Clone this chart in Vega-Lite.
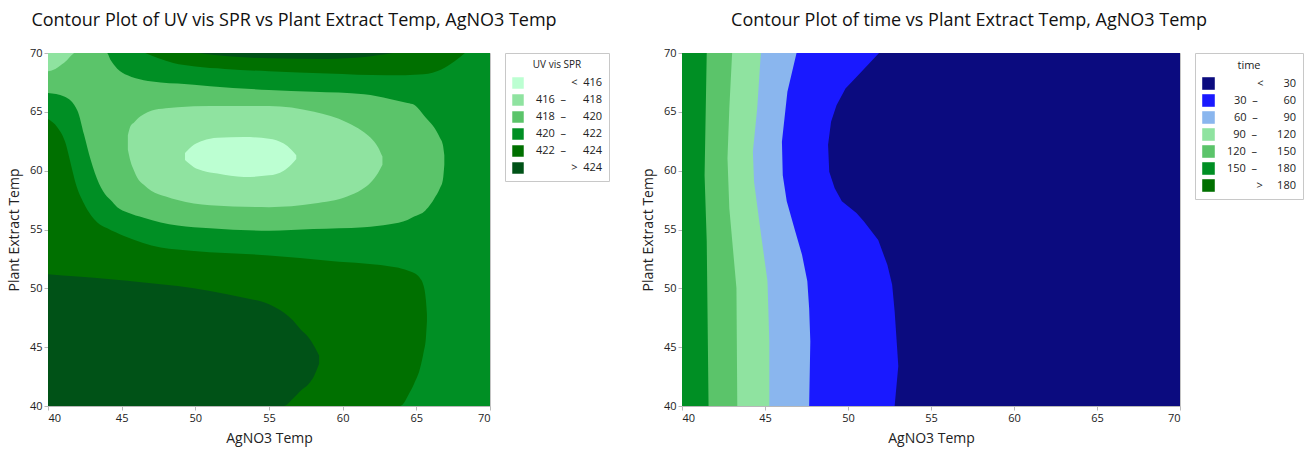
{
  "$schema": "https://vega.github.io/schema/vega-lite/v6.json",
  "background": "white",
  "padding": {"left": 6, "top": 11, "right": 4, "bottom": 4},
  "config": {
    "font": "Open Sans",
    "view": {"stroke": "#c4c4c4", "strokeWidth": 1},
    "axis": {"grid": false, "domainColor": "#b8b8b8", "tickColor": "#b8b8b8", "tickSize": 4, "labelFontSize": 11, "labelColor": "#222222", "labelPadding": 2, "titleFontSize": 14, "titleFontWeight": "normal", "titleColor": "#222222"},
    "title": {"fontSize": 18, "fontWeight": "normal", "color": "#111111", "offset": 17},
    "legend": {"symbolType": "square", "symbolStrokeWidth": 0, "strokeColor": "#c8c8c8", "padding": 7, "titleFontWeight": "normal", "titleColor": "#222222", "labelColor": "#222222", "labelAlign": "right", "titleAnchor": "middle", "rowPadding": 5, "offset": 15}
  },
  "datasets": {
    "uv": [
      {"part": "bg", "cls": "420 – 422", "x": 40, "lo": 40, "hi": 70},
      {"part": "bg", "cls": "420 – 422", "x": 70, "lo": 40, "hi": 70},

      {"part": "L422", "cls": "422 – 424", "x": 40, "lo": 40, "hi": 64.4},
      {"part": "L422", "cls": "422 – 424", "x": 40.63, "lo": 40, "hi": 63.7},
      {"part": "L422", "cls": "422 – 424", "x": 41.2, "lo": 40, "hi": 62.3},
      {"part": "L422", "cls": "422 – 424", "x": 41.54, "lo": 40, "hi": 60.6},
      {"part": "L422", "cls": "422 – 424", "x": 41.88, "lo": 40, "hi": 58.9},
      {"part": "L422", "cls": "422 – 424", "x": 42.44, "lo": 40, "hi": 57.2},
      {"part": "L422", "cls": "422 – 424", "x": 43.35, "lo": 40, "hi": 55.6},
      {"part": "L422", "cls": "422 – 424", "x": 44.03, "lo": 40, "hi": 55.1},
      {"part": "L422", "cls": "422 – 424", "x": 45.16, "lo": 40, "hi": 54.45},
      {"part": "L422", "cls": "422 – 424", "x": 47.65, "lo": 40, "hi": 53.46},
      {"part": "L422", "cls": "422 – 424", "x": 49.9, "lo": 40, "hi": 53.18},
      {"part": "L422", "cls": "422 – 424", "x": 55, "lo": 40, "hi": 52.8},
      {"part": "L422", "cls": "422 – 424", "x": 59.2, "lo": 40, "hi": 52.33},
      {"part": "L422", "cls": "422 – 424", "x": 63.7, "lo": 40, "hi": 51.76},
      {"part": "L422", "cls": "422 – 424", "x": 63.9, "lo": 40, "hi": 51.7},
      {"part": "L422", "cls": "422 – 424", "x": 64.55, "lo": 41.14, "hi": 51.45},
      {"part": "L422", "cls": "422 – 424", "x": 64.85, "lo": 41.9, "hi": 51.3},
      {"part": "L422", "cls": "422 – 424", "x": 65.23, "lo": 43.1, "hi": 50.9},
      {"part": "L422", "cls": "422 – 424", "x": 65.5, "lo": 44.6, "hi": 50.2},
      {"part": "L422", "cls": "422 – 424", "x": 65.65, "lo": 45.8, "hi": 49.0},
      {"part": "L422", "cls": "422 – 424", "x": 65.72, "lo": 47.2, "hi": 47.8},

      {"part": "B424", "cls": "> 424", "x": 40, "lo": 40, "hi": 51.2},
      {"part": "B424", "cls": "> 424", "x": 42, "lo": 40, "hi": 51.0},
      {"part": "B424", "cls": "> 424", "x": 44.25, "lo": 40, "hi": 50.77},
      {"part": "B424", "cls": "> 424", "x": 46.5, "lo": 40, "hi": 50.5},
      {"part": "B424", "cls": "> 424", "x": 48.8, "lo": 40, "hi": 50.2},
      {"part": "B424", "cls": "> 424", "x": 51, "lo": 40, "hi": 49.78},
      {"part": "B424", "cls": "> 424", "x": 53.3, "lo": 40, "hi": 49.2},
      {"part": "B424", "cls": "> 424", "x": 55, "lo": 40, "hi": 48.65},
      {"part": "B424", "cls": "> 424", "x": 56, "lo": 40, "hi": 47.94},
      {"part": "B424", "cls": "> 424", "x": 56.6, "lo": 40.6, "hi": 47.3},
      {"part": "B424", "cls": "> 424", "x": 57.15, "lo": 41.3, "hi": 46.5},
      {"part": "B424", "cls": "> 424", "x": 57.7, "lo": 41.9, "hi": 45.8},
      {"part": "B424", "cls": "> 424", "x": 58.06, "lo": 42.56, "hi": 45.1},
      {"part": "B424", "cls": "> 424", "x": 58.4, "lo": 43.6, "hi": 44.3},

      {"part": "M418", "cls": "418 – 420", "x": 40, "lo": 66.6, "hi": 70},
      {"part": "M418", "cls": "418 – 420", "x": 41.1, "lo": 66.3, "hi": 70},
      {"part": "M418", "cls": "418 – 420", "x": 42.0, "lo": 65.1, "hi": 70},
      {"part": "M418", "cls": "418 – 420", "x": 42.44, "lo": 63.1, "hi": 70},
      {"part": "M418", "cls": "418 – 420", "x": 42.9, "lo": 60.9, "hi": 70},
      {"part": "M418", "cls": "418 – 420", "x": 43.46, "lo": 58.9, "hi": 70},
      {"part": "M418", "cls": "418 – 420", "x": 44.0, "lo": 57.8, "hi": 70},
      {"part": "M418", "cls": "418 – 420", "x": 44.25, "lo": 57.5, "hi": 69.4},
      {"part": "M418", "cls": "418 – 420", "x": 44.7, "lo": 56.9, "hi": 68.67},
      {"part": "M418", "cls": "418 – 420", "x": 45.4, "lo": 56.45, "hi": 68.1},
      {"part": "M418", "cls": "418 – 420", "x": 46.5, "lo": 56.0, "hi": 67.68},
      {"part": "M418", "cls": "418 – 420", "x": 47.65, "lo": 55.6, "hi": 67.5},
      {"part": "M418", "cls": "418 – 420", "x": 48.8, "lo": 55.35, "hi": 67.4},
      {"part": "M418", "cls": "418 – 420", "x": 51, "lo": 55.1, "hi": 67.17},
      {"part": "M418", "cls": "418 – 420", "x": 55, "lo": 54.9, "hi": 66.85},
      {"part": "M418", "cls": "418 – 420", "x": 58, "lo": 55.05, "hi": 66.7},
      {"part": "M418", "cls": "418 – 420", "x": 61.45, "lo": 55.2, "hi": 66.5},
      {"part": "M418", "cls": "418 – 420", "x": 63.2, "lo": 55.45, "hi": 66.1},
      {"part": "M418", "cls": "418 – 420", "x": 64.4, "lo": 55.8, "hi": 65.75},
      {"part": "M418", "cls": "418 – 420", "x": 64.85, "lo": 56.1, "hi": 65.6},
      {"part": "M418", "cls": "418 – 420", "x": 65.6, "lo": 56.6, "hi": 64.56},
      {"part": "M418", "cls": "418 – 420", "x": 66.0, "lo": 57.2, "hi": 64.0},
      {"part": "M418", "cls": "418 – 420", "x": 66.2, "lo": 57.6, "hi": 63.7},
      {"part": "M418", "cls": "418 – 420", "x": 66.6, "lo": 58.5, "hi": 62.8},
      {"part": "M418", "cls": "418 – 420", "x": 66.8, "lo": 59.2, "hi": 62.2},
      {"part": "M418", "cls": "418 – 420", "x": 66.9, "lo": 60.5, "hi": 61.3},

      {"part": "C416", "cls": "416 – 418", "x": 40, "lo": 68.45, "hi": 70},
      {"part": "C416", "cls": "416 – 418", "x": 40.5, "lo": 68.65, "hi": 70},
      {"part": "C416", "cls": "416 – 418", "x": 40.86, "lo": 68.95, "hi": 70},
      {"part": "C416", "cls": "416 – 418", "x": 41.3, "lo": 69.4, "hi": 70},
      {"part": "C416", "cls": "416 – 418", "x": 41.54, "lo": 69.75, "hi": 70},
      {"part": "C416", "cls": "416 – 418", "x": 41.77, "lo": 70, "hi": 70},

      {"part": "M416", "cls": "416 – 418", "x": 45.42, "lo": 61.8, "hi": 63.0},
      {"part": "M416", "cls": "416 – 418", "x": 45.6, "lo": 60.8, "hi": 63.8},
      {"part": "M416", "cls": "416 – 418", "x": 45.84, "lo": 60.0, "hi": 64.1},
      {"part": "M416", "cls": "416 – 418", "x": 46.06, "lo": 59.4, "hi": 64.4},
      {"part": "M416", "cls": "416 – 418", "x": 46.5, "lo": 58.8, "hi": 64.8},
      {"part": "M416", "cls": "416 – 418", "x": 47.0, "lo": 58.3, "hi": 65.1},
      {"part": "M416", "cls": "416 – 418", "x": 48.0, "lo": 57.8, "hi": 65.3},
      {"part": "M416", "cls": "416 – 418", "x": 48.8, "lo": 57.5, "hi": 65.4},
      {"part": "M416", "cls": "416 – 418", "x": 51, "lo": 57.06, "hi": 65.5},
      {"part": "M416", "cls": "416 – 418", "x": 55, "lo": 56.9, "hi": 65.5},
      {"part": "M416", "cls": "416 – 418", "x": 58.06, "lo": 57.2, "hi": 65.0},
      {"part": "M416", "cls": "416 – 418", "x": 60.3, "lo": 57.8, "hi": 64.1},
      {"part": "M416", "cls": "416 – 418", "x": 61.3, "lo": 58.4, "hi": 63.4},
      {"part": "M416", "cls": "416 – 418", "x": 61.9, "lo": 59.0, "hi": 62.8},
      {"part": "M416", "cls": "416 – 418", "x": 62.4, "lo": 59.8, "hi": 62.0},
      {"part": "M416", "cls": "416 – 418", "x": 62.7, "lo": 60.5, "hi": 61.2},

      {"part": "M414", "cls": "< 416", "x": 49.3, "lo": 60.9, "hi": 61.5},
      {"part": "M414", "cls": "< 416", "x": 49.9, "lo": 60.3, "hi": 62.2},
      {"part": "M414", "cls": "< 416", "x": 50.5, "lo": 60.0, "hi": 62.55},
      {"part": "M414", "cls": "< 416", "x": 51.5, "lo": 59.75, "hi": 62.8},
      {"part": "M414", "cls": "< 416", "x": 53.3, "lo": 59.46, "hi": 62.86},
      {"part": "M414", "cls": "< 416", "x": 55, "lo": 59.6, "hi": 62.72},
      {"part": "M414", "cls": "< 416", "x": 56.0, "lo": 60.0, "hi": 62.3},
      {"part": "M414", "cls": "< 416", "x": 56.5, "lo": 60.5, "hi": 61.8},
      {"part": "M414", "cls": "< 416", "x": 56.85, "lo": 61.0, "hi": 61.3},

      {"part": "T422", "cls": "422 – 424", "x": 46.6, "lo": 70, "hi": 70},
      {"part": "T422", "cls": "422 – 424", "x": 47.5, "lo": 69.55, "hi": 70},
      {"part": "T422", "cls": "422 – 424", "x": 48.5, "lo": 69.15, "hi": 70},
      {"part": "T422", "cls": "422 – 424", "x": 50, "lo": 68.85, "hi": 70},
      {"part": "T422", "cls": "422 – 424", "x": 52, "lo": 68.65, "hi": 70},
      {"part": "T422", "cls": "422 – 424", "x": 55, "lo": 68.45, "hi": 70},
      {"part": "T422", "cls": "422 – 424", "x": 59, "lo": 68.25, "hi": 70},
      {"part": "T422", "cls": "422 – 424", "x": 63, "lo": 68.1, "hi": 70},
      {"part": "T422", "cls": "422 – 424", "x": 65.5, "lo": 68.2, "hi": 70},
      {"part": "T422", "cls": "422 – 424", "x": 66.7, "lo": 68.6, "hi": 70},
      {"part": "T422", "cls": "422 – 424", "x": 67.6, "lo": 69.3, "hi": 70},
      {"part": "T422", "cls": "422 – 424", "x": 68.3, "lo": 70, "hi": 70},

      {"part": "T424", "cls": "> 424", "x": 50.2, "lo": 70, "hi": 70},
      {"part": "T424", "cls": "> 424", "x": 51.5, "lo": 69.8, "hi": 70},
      {"part": "T424", "cls": "> 424", "x": 53, "lo": 69.65, "hi": 70},
      {"part": "T424", "cls": "> 424", "x": 55, "lo": 69.55, "hi": 70},
      {"part": "T424", "cls": "> 424", "x": 59, "lo": 69.5, "hi": 70},
      {"part": "T424", "cls": "> 424", "x": 61.5, "lo": 69.65, "hi": 70},
      {"part": "T424", "cls": "> 424", "x": 62.6, "lo": 69.85, "hi": 70},
      {"part": "T424", "cls": "> 424", "x": 63.4, "lo": 70, "hi": 70}
    ],
    "time": [
      {"cls": "< 30", "y": 40, "xr": 70},
      {"cls": "< 30", "y": 70, "xr": 70},

      {"cls": "30 – 60", "y": 40, "xr": 52.81},
      {"cls": "30 – 60", "y": 43.4, "xr": 53.03},
      {"cls": "30 – 60", "y": 44.9, "xr": 52.96},
      {"cls": "30 – 60", "y": 48.05, "xr": 52.81},
      {"cls": "30 – 60", "y": 50.3, "xr": 52.66},
      {"cls": "30 – 60", "y": 52.0, "xr": 52.37},
      {"cls": "30 – 60", "y": 54.1, "xr": 51.82},
      {"cls": "30 – 60", "y": 55.7, "xr": 50.95},
      {"cls": "30 – 60", "y": 56.4, "xr": 50.51},
      {"cls": "30 – 60", "y": 57.4, "xr": 49.63},
      {"cls": "30 – 60", "y": 58.5, "xr": 49.2},
      {"cls": "30 – 60", "y": 59.9, "xr": 48.87},
      {"cls": "30 – 60", "y": 62.2, "xr": 48.8},
      {"cls": "30 – 60", "y": 64.15, "xr": 48.98},
      {"cls": "30 – 60", "y": 65.56, "xr": 49.31},
      {"cls": "30 – 60", "y": 66.98, "xr": 49.85},
      {"cls": "30 – 60", "y": 67.97, "xr": 50.51},
      {"cls": "30 – 60", "y": 70, "xr": 51.87},

      {"cls": "60 – 90", "y": 40, "xr": 47.66},
      {"cls": "60 – 90", "y": 45.5, "xr": 47.73},
      {"cls": "60 – 90", "y": 48.3, "xr": 47.66},
      {"cls": "60 – 90", "y": 50.6, "xr": 47.55},
      {"cls": "60 – 90", "y": 52.85, "xr": 47.23},
      {"cls": "60 – 90", "y": 55.0, "xr": 46.79},
      {"cls": "60 – 90", "y": 57.4, "xr": 46.31},
      {"cls": "60 – 90", "y": 59.6, "xr": 46.07},
      {"cls": "60 – 90", "y": 62.46, "xr": 46.02},
      {"cls": "60 – 90", "y": 66.7, "xr": 46.35},
      {"cls": "60 – 90", "y": 70, "xr": 46.9},

      {"cls": "90 – 120", "y": 40, "xr": 45.26},
      {"cls": "90 – 120", "y": 45.5, "xr": 45.26},
      {"cls": "90 – 120", "y": 50.6, "xr": 45.15},
      {"cls": "90 – 120", "y": 55.1, "xr": 44.71},
      {"cls": "90 – 120", "y": 59.06, "xr": 44.34},
      {"cls": "90 – 120", "y": 61.6, "xr": 44.27},
      {"cls": "90 – 120", "y": 65.28, "xr": 44.53},
      {"cls": "90 – 120", "y": 70, "xr": 44.75},

      {"cls": "120 – 150", "y": 40, "xr": 43.33},
      {"cls": "120 – 150", "y": 50.03, "xr": 43.28},
      {"cls": "120 – 150", "y": 56.8, "xr": 42.85},
      {"cls": "120 – 150", "y": 61.05, "xr": 42.74},
      {"cls": "120 – 150", "y": 65.28, "xr": 42.85},
      {"cls": "120 – 150", "y": 70, "xr": 43.02},

      {"cls": "150 – 180", "y": 40, "xr": 41.6},
      {"cls": "150 – 180", "y": 54.0, "xr": 41.49},
      {"cls": "150 – 180", "y": 59.6, "xr": 41.36},
      {"cls": "150 – 180", "y": 70, "xr": 41.49}
    ]
  },
  "spacing": 30,
  "resolve": {"scale": {"color": "independent"}, "legend": {"color": "independent"}},
  "hconcat": [
    {
      "title": {"text": "Contour Plot of UV vis SPR vs Plant Extract Temp, AgNO3 Temp", "anchor": "middle", "frame": "group", "dx": 25},
      "width": 442,
      "height": 353,
      "data": {"name": "uv"},
      "encoding": {
        "x": {"field": "x", "type": "quantitative", "scale": {"domain": [40, 70], "nice": false, "zero": false}, "axis": {"title": "AgNO3 Temp", "values": [40, 45, 50, 55, 60, 65, 70], "titlePadding": 8}},
        "y": {"field": "lo", "type": "quantitative", "scale": {"domain": [40, 70], "nice": false, "zero": false}, "axis": {"title": "Plant Extract Temp", "values": [40, 45, 50, 55, 60, 65, 70], "titlePadding": 8}},
        "y2": {"field": "hi"},
        "detail": {"field": "part"},
        "color": {
          "field": "cls", "type": "nominal",
          "scale": {"domain": ["< 416", "416 – 418", "418 – 420", "420 – 422", "422 – 424", "> 424"], "range": ["#bcffd2", "#8fe3a0", "#5bc46a", "#008f24", "#007000", "#005217"]},
          "legend": {"title": "UV vis SPR", "titleFontSize": 10, "labelFontSize": 11, "symbolSize": 132, "labelOffset": 78, "titlePadding": 7,
            "labelExpr": "replace(replace(replace(datum.label, ' – ', '\u00a0\u00a0–\u00a0\u00a0\u00a0\u00a0\u00a0\u00a0'), '< ', '<\u00a0\u00a0'), '> ', '>\u00a0\u00a0')"}
        }
      },
      "layer": [
        {"transform": [{"filter": "datum.part === 'bg'"}], "mark": {"type": "area", "orient": "vertical", "clip": true}},
        {"transform": [{"filter": "datum.part === 'L422'"}], "mark": {"type": "area", "orient": "vertical", "interpolate": "monotone", "clip": true}},
        {"transform": [{"filter": "datum.part === 'B424'"}], "mark": {"type": "area", "orient": "vertical", "interpolate": "monotone", "clip": true}},
        {"transform": [{"filter": "datum.part === 'M418'"}], "mark": {"type": "area", "orient": "vertical", "interpolate": "monotone", "clip": true}},
        {"transform": [{"filter": "datum.part === 'C416'"}], "mark": {"type": "area", "orient": "vertical", "interpolate": "monotone", "clip": true}},
        {"transform": [{"filter": "datum.part === 'M416'"}], "mark": {"type": "area", "orient": "vertical", "interpolate": "monotone", "clip": true}},
        {"transform": [{"filter": "datum.part === 'M414'"}], "mark": {"type": "area", "orient": "vertical", "interpolate": "monotone", "clip": true}},
        {"transform": [{"filter": "datum.part === 'T422'"}], "mark": {"type": "area", "orient": "vertical", "interpolate": "monotone", "clip": true}},
        {"transform": [{"filter": "datum.part === 'T424'"}], "mark": {"type": "area", "orient": "vertical", "interpolate": "monotone", "clip": true}}
      ]
    },
    {
      "title": {"text": "Contour Plot of time vs Plant Extract Temp, AgNO3 Temp", "anchor": "middle", "frame": "group", "dx": 38},
      "width": 498,
      "height": 353,
      "data": {"name": "time"},
      "encoding": {
        "y": {"field": "y", "type": "quantitative", "scale": {"domain": [40, 70], "nice": false, "zero": false}, "axis": {"title": "Plant Extract Temp", "values": [40, 45, 50, 55, 60, 65, 70], "titlePadding": 8}},
        "x": {"field": "xr", "type": "quantitative", "scale": {"domain": [40, 70], "nice": false, "zero": false}, "axis": {"title": "AgNO3 Temp", "values": [40, 45, 50, 55, 60, 65, 70], "titlePadding": 8}},
        "x2": {"datum": 40},
        "color": {
          "field": "cls", "type": "nominal",
          "scale": {"domain": ["< 30", "30 – 60", "60 – 90", "90 – 120", "120 – 150", "150 – 180", "> 180"], "range": ["#0b0b7f", "#1919ff", "#8ab6ee", "#8fe3a0", "#5bc46a", "#008f24", "#007000"]},
          "legend": {"title": "time", "titleFontSize": 11, "labelFontSize": 11, "symbolSize": 158, "labelOffset": 81, "titlePadding": 6, "rowPadding": 4,
            "labelExpr": "datum.label === '< 30' ? '<\u00a0\u00a0\u00a0\u00a0\u00a0\u00a0\u00a030' : datum.label === '30 – 60' ? '30\u00a0\u00a0–\u00a0\u00a0\u00a0\u00a0\u00a0\u00a0\u00a0\u00a0\u00a060' : datum.label === '60 – 90' ? '60\u00a0\u00a0–\u00a0\u00a0\u00a0\u00a0\u00a0\u00a0\u00a0\u00a0\u00a090' : datum.label === '> 180' ? '>\u00a0\u00a0\u00a0\u00a0\u00a0180' : replace(datum.label, ' – ', '\u00a0\u00a0–\u00a0\u00a0\u00a0\u00a0\u00a0\u00a0\u00a0')"}
        }
      },
      "layer": [
        {"transform": [{"filter": "datum.cls === '< 30'"}], "mark": {"type": "area", "orient": "horizontal", "clip": true}},
        {"transform": [{"filter": "datum.cls === '30 – 60'"}], "mark": {"type": "area", "orient": "horizontal", "clip": true}},
        {"transform": [{"filter": "datum.cls === '60 – 90'"}], "mark": {"type": "area", "orient": "horizontal", "clip": true}},
        {"transform": [{"filter": "datum.cls === '90 – 120'"}], "mark": {"type": "area", "orient": "horizontal", "clip": true}},
        {"transform": [{"filter": "datum.cls === '120 – 150'"}], "mark": {"type": "area", "orient": "horizontal", "clip": true}},
        {"transform": [{"filter": "datum.cls === '150 – 180'"}], "mark": {"type": "area", "orient": "horizontal", "clip": true}}
      ]
    }
  ]
}
